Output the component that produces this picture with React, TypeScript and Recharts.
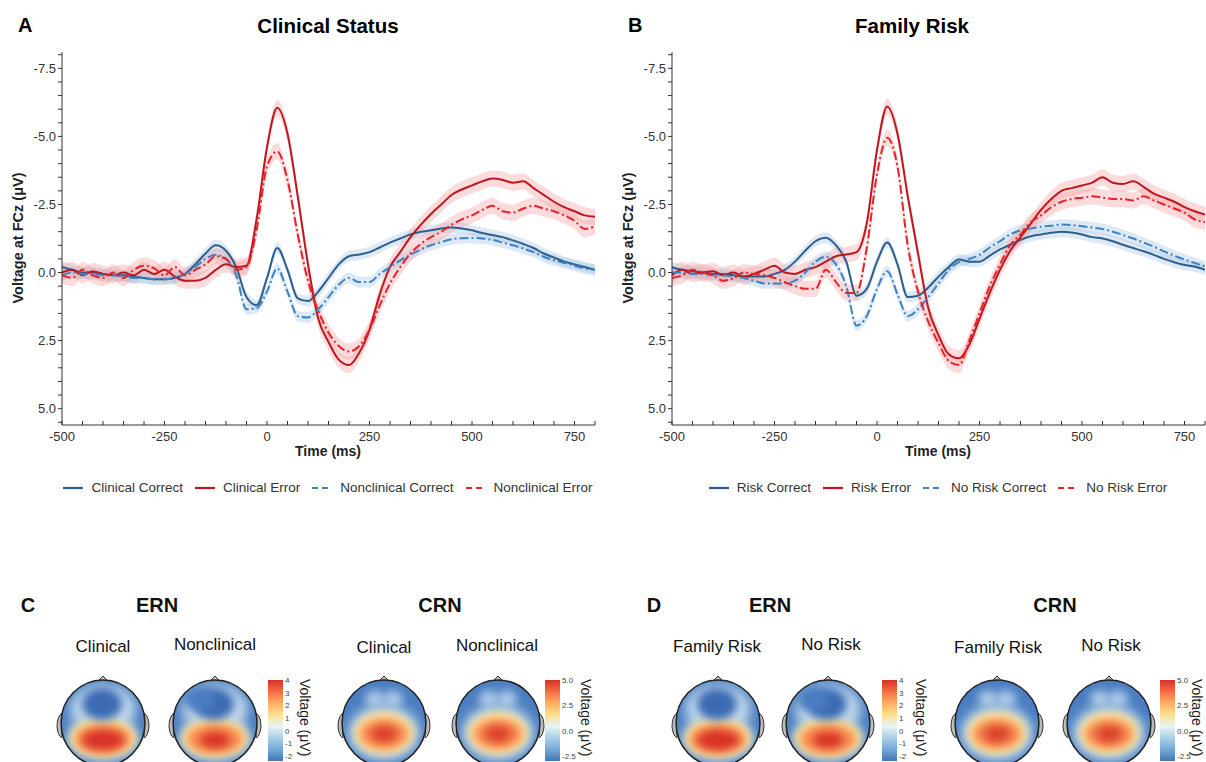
import React from 'react'
import { ComposedChart, Line, Area, XAxis, YAxis } from 'recharts'

// time points (ms)
const times = [
    -500, -475, -450, -425, -400, -375, -350, -325, -300, -275, -250, -225, -200, -175, -150, -125, -100, -75, -50, -25,
    0, 25, 50, 75, 100, 125, 150, 175, 200, 225, 250, 275, 300, 325, 350, 375, 400, 425, 450, 475, 500, 525, 550, 575,
    600, 625, 650, 675, 700, 725, 750, 775, 800,
]

// Panel A - clinical status (µV at FCz)
const clinicalCorrect = [
    -0.2, -0.1, 0.0, 0.0, 0.05, 0.1, 0.1, 0.15, 0.2, 0.25, 0.25, 0.2, 0.05, -0.3, -0.7, -1.0, -0.8, -0.2, 0.9, 1.2,
    0.2, -0.9, -0.1, 0.95, 1.05, 0.7, 0.2, -0.3, -0.6, -0.66, -0.75, -0.92, -1.1, -1.25, -1.4, -1.5, -1.55, -1.62, -1.65,
    -1.62, -1.55, -1.45, -1.38, -1.3, -1.18, -1.05, -0.9, -0.7, -0.55, -0.4, -0.3, -0.2, -0.1,
]
const clinicalError = [
    0.0, -0.1, 0.1, -0.05, 0.05, 0.1, 0.0, 0.1, -0.1, 0.05, -0.1, 0.15, 0.3, 0.3, 0.2, -0.1, -0.3, -0.2, -0.25, -2.0,
    -4.6, -6.05, -5.1, -2.8, -0.3, 1.7, 2.55, 3.2, 3.4, 2.95, 2.1, 0.8, -0.2, -0.75, -1.3, -1.75, -2.15, -2.5, -2.85,
    -3.05, -3.2, -3.35, -3.45, -3.4, -3.3, -3.35, -3.1, -2.85, -2.6, -2.4, -2.25, -2.1, -2.05,
]
const nonclinicalCorrect = [
    0.1, 0.0, 0.05, 0.05, 0.1, 0.1, 0.15, 0.2, 0.2, 0.25, 0.25, 0.2, 0.05, -0.2, -0.5, -0.65, -0.5, 0.1, 1.35, 1.3,
    0.7, -0.15, 0.7, 1.6, 1.65, 1.35, 0.9, 0.45, 0.2, 0.35, 0.35, 0.05, -0.2, -0.45, -0.65, -0.85, -1.0, -1.12, -1.22,
    -1.26, -1.27, -1.25, -1.2, -1.1, -1.0, -0.88, -0.75, -0.58, -0.45, -0.35, -0.25, -0.15, -0.1,
]
const nonclinicalError = [
    0.1, 0.2, -0.1, 0.1, 0.2, 0.0, 0.2, -0.1, -0.25, -0.15, 0.1, -0.2, 0.1, -0.1, -0.3, -0.6, -0.5, -0.1, -0.2, -1.6,
    -3.9, -4.45, -3.4, -1.4, 0.3, 1.4, 2.2, 2.7, 2.9, 2.7, 2.1, 1.2, 0.4, -0.2, -0.7, -1.05, -1.3, -1.5, -1.75, -1.95,
    -2.1, -2.3, -2.45, -2.25, -2.2, -2.35, -2.45, -2.35, -2.25, -2.1, -1.9, -1.6, -1.7,
]

// Panel B - family risk
const riskCorrect = [
    -0.2, -0.1, -0.05, 0.0, 0.05, 0.05, 0.1, 0.15, 0.15, 0.15, 0.05, -0.1, -0.4, -0.8, -1.15, -1.28, -1.0, -0.4, 0.85, 0.6,
    -0.4, -1.1, -0.3, 0.9, 0.85, 0.55, 0.15, -0.2, -0.48, -0.4, -0.4, -0.62, -0.85, -1.02, -1.2, -1.33, -1.4, -1.46, -1.5,
    -1.47, -1.4, -1.3, -1.25, -1.15, -1.02, -0.9, -0.78, -0.65, -0.5, -0.38, -0.28, -0.22, -0.1,
]
const riskError = [
    0.1, -0.1, 0.05, 0.0, -0.05, 0.1, 0.0, 0.15, 0.05, -0.1, -0.25, 0.0, 0.05, -0.1, -0.2, -0.4, -0.6, -0.66, -0.75, -1.8,
    -4.5, -6.1, -5.1, -2.8, -0.7, 1.3, 2.3, 3.0, 3.15, 2.65, 1.7, 0.75, -0.1, -0.8, -1.3, -1.8, -2.3, -2.7, -3.0, -3.1,
    -3.2, -3.3, -3.5, -3.3, -3.25, -3.35, -3.15, -2.9, -2.75, -2.6, -2.4, -2.25, -2.13,
]
const noRiskCorrect = [
    0.0, 0.0, 0.05, 0.05, 0.1, 0.1, 0.15, 0.2, 0.3, 0.4, 0.4, 0.4, 0.3, 0.0, -0.4, -0.58, -0.3, 0.5, 1.95, 1.6,
    0.6, -0.05, 0.8, 1.6, 1.35, 0.9, 0.4, -0.1, -0.38, -0.5, -0.65, -0.92, -1.15, -1.4, -1.55, -1.62, -1.68, -1.72, -1.76,
    -1.74, -1.7, -1.65, -1.6, -1.5, -1.38, -1.25, -1.1, -0.95, -0.78, -0.62, -0.48, -0.35, -0.22,
]
const noRiskError = [
    0.2, 0.1, -0.1, 0.0, 0.1, 0.3, 0.2, 0.0, 0.05, 0.1, 0.2, 0.35, 0.5, 0.6, 0.6, -0.1, 0.35, 0.75, 0.75, -0.9,
    -3.6, -4.95, -3.9, -1.0, 0.7, 1.8, 2.6, 3.25, 3.4, 2.5, 1.5, 0.5, -0.3, -1.0, -1.4, -1.85, -2.1, -2.4, -2.6, -2.7,
    -2.75, -2.8, -2.75, -2.7, -2.7, -2.65, -2.8, -2.65, -2.5, -2.35, -2.2, -1.95, -1.85,
]

// standard error half-widths for the shaded ribbons
const seCorrect = 0.2
const seError = 0.3

const xTicks = [
    -500, -450, -400, -350, -300, -250, -200, -150, -100, -50, 0, 50, 100, 150, 200, 250, 300, 350, 400, 450, 500, 550,
    600, 650, 700, 750, 800,
]
const yTicks = [
    -8, -7.5, -7, -6.5, -6, -5.5, -5, -4.5, -4, -3.5, -3, -2.5, -2, -1.5, -1, -0.5, 0, 0.5, 1, 1.5, 2, 2.5, 3, 3.5, 4,
    4.5, 5, 5.5,
]

const ernScale = ['4', '3', '2', '1', '0', '-1', '-2']
const crnScale = ['5.0', '2.5', '0.0', '-2.5']

const FONT = '"Liberation Sans", Arial, sans-serif'
const DARK_BLUE = '#2e5f8c'
const LIGHT_BLUE = '#3f82c2'
const DARK_RED = '#c0171f'
const BRIGHT_RED = '#ea2129'

type Series = { key: string; name: string; values: number[]; se: number; color: string; dash?: string; band: string }

const makeRows = (series: Series[]) =>
    times.map((t, i) => {
        const row: Record<string, any> = { t }
        series.forEach((s) => {
            row[s.key] = s.values[i]
            row[s.key + 'Band'] = [s.values[i] - s.se, s.values[i] + s.se]
        })
        return row
    })

const XTick = (props: any) => {
    const { x, y, payload } = props
    const v = payload.value
    return (
        <g>
            <line x1={x} x2={x} y1={y} y2={y - 4} stroke="#333" />
            {v % 250 === 0 && (
                <text x={x} y={y + 16} textAnchor="middle" fontSize={13} fill="#333" fontFamily={FONT}>
                    {v}
                </text>
            )}
        </g>
    )
}

const Legend = ({ items, center }: { items: Series[]; center: number }) => (
    <div
        style={{
            position: 'absolute',
            left: center - 320,
            width: 640,
            top: 480,
            display: 'flex',
            justifyContent: 'center',
            alignItems: 'center',
            fontFamily: FONT,
            fontSize: 13.5,
            color: '#333',
        }}
    >
        {items.map((s) => (
            <div key={s.key} style={{ display: 'flex', alignItems: 'center', marginRight: 11 }}>
                <svg width={22} height={10} style={{ marginRight: 7 }}>
                    <line x1={1} x2={21} y1={5} y2={5} stroke={s.color} strokeWidth={2.2} strokeDasharray={s.dash ? '6 4' : undefined} />
                </svg>
                <span>{s.name}</span>
            </div>
        ))}
    </div>
)

const ErpPanel = ({
    left,
    letter,
    title,
    titleX,
    series,
}: {
    left: number
    letter: string
    title: string
    titleX: number
    series: Series[]
}) => {
    const rows = makeRows(series)
    return (
        <div style={{ position: 'absolute', left, top: 0, width: 610, height: 520 }}>
            <div style={{ position: 'absolute', left: 18, top: 14, fontFamily: FONT, fontWeight: 700, fontSize: 20 }}>
                {letter}
            </div>
            <div
                style={{
                    position: 'absolute',
                    left: titleX - 150,
                    width: 300,
                    top: 14,
                    textAlign: 'center',
                    fontFamily: FONT,
                    fontWeight: 700,
                    fontSize: 20.5,
                }}
            >
                {title}
            </div>
            <div
                style={{
                    position: 'absolute',
                    left: 18 - 100,
                    top: 238 - 9,
                    width: 200,
                    textAlign: 'center',
                    transform: 'rotate(-90deg)',
                    fontFamily: FONT,
                    fontWeight: 700,
                    fontSize: 14.5,
                    color: '#222',
                    lineHeight: '18px',
                }}
            >
                Voltage at FCz (μV)
            </div>
            <div
                style={{
                    position: 'absolute',
                    left: 328 - 100,
                    width: 200,
                    top: 443,
                    textAlign: 'center',
                    fontFamily: FONT,
                    fontWeight: 700,
                    fontSize: 14,
                    color: '#222',
                }}
            >
                Time (ms)
            </div>
            <div style={{ position: 'absolute', left: 0, top: 0 }}>
                <ComposedChart width={610} height={470} data={rows} margin={{ top: 52, right: 15, bottom: 20, left: 20 }}>
                    <XAxis
                        dataKey="t"
                        type="number"
                        domain={[-500, 800]}
                        ticks={xTicks}
                        interval={0}
                        height={25}
                        tickSize={0}
                        tickMargin={0}
                        tickLine={false}
                        tick={<XTick />}
                        stroke="#333"
                        allowDataOverflow
                    />
                    <YAxis
                        type="number"
                        domain={[-8.1, 5.6]}
                        reversed
                        ticks={yTicks}
                        interval={0}
                        width={42}
                        tickSize={4}
                        tickMargin={2}
                        stroke="#333"
                        tick={{ fontSize: 13, fill: '#333', fontFamily: FONT }}
                        tickFormatter={(v: number) => (Math.abs(v % 2.5) < 1e-9 ? v.toFixed(1) : '')}
                        allowDataOverflow
                    />
                    {series.map((s) => (
                        <Area
                            key={s.key + 'Band'}
                            dataKey={s.key + 'Band'}
                            type="monotone"
                            stroke="none"
                            fill={s.band}
                            fillOpacity={0.4}
                            isAnimationActive={false}
                            dot={false}
                            activeDot={false}
                        />
                    ))}
                    {series.map((s) => (
                        <Line
                            key={s.key}
                            dataKey={s.key}
                            type="monotone"
                            stroke={s.color}
                            strokeWidth={2}
                            strokeDasharray={s.dash}
                            dot={false}
                            activeDot={false}
                            isAnimationActive={false}
                        />
                    ))}
                </ComposedChart>
            </div>
            <Legend items={series} center={333} />
        </div>
    )
}

const Head = ({ cx, kind, id, strong }: { cx: number; kind: 'ERN' | 'CRN'; id: string; strong: boolean }) => {
    const w = 110
    const c = 55
    const cy = 53
    return (
        <svg width={w} height={100} style={{ position: 'absolute', left: cx - c, top: 670 }}>
            <defs>
                <clipPath id={id + 'clip'}>
                    <ellipse cx={c} cy={cy} rx={42} ry={43} />
                </clipPath>
                <filter id={id + 'b6'} x="-50%" y="-50%" width="200%" height="200%">
                    <feGaussianBlur stdDeviation={6} />
                </filter>
                <filter id={id + 'b4'} x="-50%" y="-50%" width="200%" height="200%">
                    <feGaussianBlur stdDeviation={4} />
                </filter>
            </defs>
            {/* ears */}
            <path d={`M ${c - 41} ${cy - 10} Q ${c - 46} ${cy - 7} ${c - 46} ${cy + 4} Q ${c - 45} ${cy + 13} ${c - 41} ${cy + 15} Z`} fill="#bdbdbd" stroke="#333" />
            <path d={`M ${c + 41} ${cy - 10} Q ${c + 46} ${cy - 7} ${c + 46} ${cy + 4} Q ${c + 45} ${cy + 13} ${c + 41} ${cy + 15} Z`} fill="#bdbdbd" stroke="#333" />
            {/* nose */}
            <path d={`M ${c - 6} ${cy - 41} L ${c} ${cy - 47} L ${c + 6} ${cy - 41} Z`} fill="#bdbdbd" stroke="#333" />
            <g clipPath={`url(#${id}clip)`}>
                <rect x={0} y={0} width={w} height={100} fill="#4a7dc0" />
                {kind === 'ERN' ? (
                    <>
                        <ellipse cx={c} cy={cy - 14} rx={33} ry={25} fill="#c2daee" filter={`url(#${id}b6)`} />
                        <ellipse cx={c} cy={cy + 16} rx={36} ry={22} fill="#bcd7ea" filter={`url(#${id}b6)`} />
                        <ellipse cx={c} cy={cy + 15} rx={33} ry={19} fill="#fee38f" filter={`url(#${id}b4)`} />
                        <ellipse cx={c} cy={cy + 16} rx={28} ry={15} fill="#f78a50" filter={`url(#${id}b4)`} />
                        <ellipse cx={c} cy={cy + 17} rx={strong ? 21 : 15} ry={strong ? 10 : 8} fill="#d73027" filter={`url(#${id}b4)`} />
                        <ellipse cx={c - 1} cy={cy - 19} rx={20} ry={16} fill="#3a6ab3" filter={`url(#${id}b4)`} />
                        {!strong && <ellipse cx={c - 15} cy={cy - 24} rx={16} ry={12} fill="#4a7dc0" filter={`url(#${id}b4)`} />}
                    </>
                ) : (
                    <>
                        <ellipse cx={c - 9} cy={cy - 24} rx={10} ry={9} fill="#a9c8e6" filter={`url(#${id}b4)`} />
                        <ellipse cx={c + 9} cy={cy - 24} rx={10} ry={9} fill="#a9c8e6" filter={`url(#${id}b4)`} />
                        <ellipse cx={c} cy={cy + 10} rx={36} ry={28} fill="#b7d4ea" filter={`url(#${id}b6)`} />
                        <ellipse cx={c} cy={cy + 10} rx={30} ry={21} fill="#fee090" filter={`url(#${id}b4)`} />
                        <ellipse cx={c} cy={cy + 11} rx={24} ry={15} fill="#f7874f" filter={`url(#${id}b4)`} />
                        <ellipse cx={c} cy={cy + 11} rx={13} ry={8} fill="#d8402b" filter={`url(#${id}b4)`} />
                    </>
                )}
            </g>
            <ellipse cx={c} cy={cy} rx={42} ry={43} fill="none" stroke="#222" strokeWidth={1.5} />
        </svg>
    )
}

const ColorBar = ({ x, labels, unitX }: { x: number; labels: string[]; unitX: number }) => (
    <>
        <div
            style={{
                position: 'absolute',
                left: x,
                top: 680,
                width: 15,
                height: 81,
                background:
                    'linear-gradient(to bottom, #d73027, #f46d43, #fdae61, #fee090, #e8f4f6, #abd0e6, #74a9d6, #4575b4)',
            }}
        />
        {labels.map((l, i) => (
            <div
                key={l}
                style={{
                    position: 'absolute',
                    left: x + 17,
                    top: 676 + (i * 76) / (labels.length - 1),
                    fontFamily: FONT,
                    fontSize: 8,
                    color: '#444',
                }}
            >
                {l}
            </div>
        ))}
        <div
            style={{
                position: 'absolute',
                left: unitX,
                top: 679,
                transform: 'rotate(90deg)',
                transformOrigin: 'left top',
                fontFamily: FONT,
                fontSize: 14,
                lineHeight: '16px',
                whiteSpace: 'nowrap',
                color: '#222',
            }}
        >
            Voltage (μV)
        </div>
    </>
)

const Label = ({ x, y, text, size, bold }: { x: number; y: number; text: string; size: number; bold?: boolean }) => (
    <div
        style={{
            position: 'absolute',
            left: x - 100,
            width: 200,
            top: y - size * 0.6,
            textAlign: 'center',
            fontFamily: FONT,
            fontSize: size,
            fontWeight: bold ? 700 : 400,
            color: '#111',
            lineHeight: 1.2,
        }}
    >
        {text}
    </div>
)

const seriesA: Series[] = [
    { key: 'cc', name: 'Clinical Correct', values: clinicalCorrect, se: seCorrect, color: DARK_BLUE, band: '#a9c7e4' },
    { key: 'ce', name: 'Clinical Error', values: clinicalError, se: seError, color: DARK_RED, band: '#f4a5a8' },
    { key: 'nc', name: 'Nonclinical Correct', values: nonclinicalCorrect, se: seCorrect, color: LIGHT_BLUE, dash: '9 3 2 3', band: '#a9c7e4' },
    { key: 'ne', name: 'Nonclinical Error', values: nonclinicalError, se: seError, color: BRIGHT_RED, dash: '9 3 2 3', band: '#f4a5a8' },
]
const seriesB: Series[] = [
    { key: 'rc', name: 'Risk Correct', values: riskCorrect, se: seCorrect, color: DARK_BLUE, band: '#a9c7e4' },
    { key: 're', name: 'Risk Error', values: riskError, se: seError, color: DARK_RED, band: '#f4a5a8' },
    { key: 'nrc', name: 'No Risk Correct', values: noRiskCorrect, se: seCorrect, color: LIGHT_BLUE, dash: '9 3 2 3', band: '#a9c7e4' },
    { key: 'nre', name: 'No Risk Error', values: noRiskError, se: seError, color: BRIGHT_RED, dash: '9 3 2 3', band: '#f4a5a8' },
]

export default function App() {
    return (
        <div style={{ position: 'absolute', left: 0, top: 0, width: 1206, height: 762, overflow: 'hidden', background: '#fff' }}>
            <ErpPanel left={0} letter="A" title="Clinical Status" titleX={328} series={seriesA} />
            <ErpPanel left={610} letter="B" title="Family Risk" titleX={302} series={seriesB} />

            <Label x={28} y={605} text="C" size={20} bold />
            <Label x={157} y={605} text="ERN" size={20} bold />
            <Label x={440} y={605} text="CRN" size={20} bold />
            <Label x={103} y={647} text="Clinical" size={17} />
            <Label x={215} y={645} text="Nonclinical" size={17} />
            <Label x={384} y={648} text="Clinical" size={17} />
            <Label x={497} y={646} text="Nonclinical" size={17} />
            <Head cx={103} kind="ERN" id="h1" strong />
            <Head cx={215} kind="ERN" id="h2" strong={false} />
            <ColorBar x={268} labels={ernScale} unitX={313} />
            <Head cx={384} kind="CRN" id="h3" strong />
            <Head cx={498} kind="CRN" id="h4" strong={false} />
            <ColorBar x={545} labels={crnScale} unitX={594} />

            <Label x={654} y={605} text="D" size={20} bold />
            <Label x={770} y={605} text="ERN" size={20} bold />
            <Label x={1055} y={605} text="CRN" size={20} bold />
            <Label x={717} y={647} text="Family Risk" size={17} />
            <Label x={831} y={645} text="No Risk" size={17} />
            <Label x={998} y={648} text="Family Risk" size={17} />
            <Label x={1111} y={646} text="No Risk" size={17} />
            <Head cx={718} kind="ERN" id="h5" strong />
            <Head cx={828} kind="ERN" id="h6" strong={false} />
            <ColorBar x={882} labels={ernScale} unitX={929} />
            <Head cx={997} kind="CRN" id="h7" strong />
            <Head cx={1109} kind="CRN" id="h8" strong={false} />
            <ColorBar x={1160} labels={crnScale} unitX={1205} />
        </div>
    )
}
